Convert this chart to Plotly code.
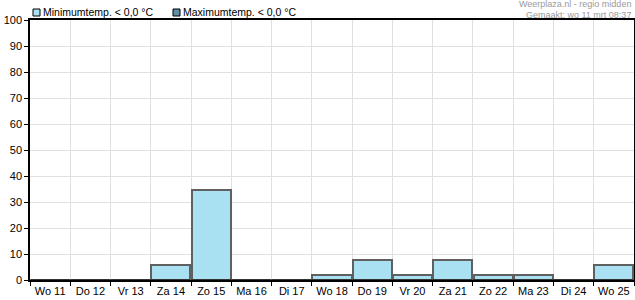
import plotly.graph_objects as go

days = ["Wo 11", "Do 12", "Vr 13", "Za 14", "Zo 15", "Ma 16", "Di 17", "Wo 18",
        "Do 19", "Vr 20", "Za 21", "Zo 22", "Ma 23", "Di 24", "Wo 25"]
min_temp_pct = [0, 0, 0, 5.8, 34.5, 0, 0, 2, 7.8, 2, 7.8, 2, 2, 0, 5.8]
max_temp_pct = [0, 0, 0, 0, 0, 0, 0, 0, 0, 0, 0, 0, 0, 0, 0]
legend_names = ["Minimumtemp. < 0,0 °C", "Maximumtemp. < 0,0 °C"]
legend_colors = ["#a9e1f2", "#5f8ea6"]

W, H = 635, 300
L, R, T, B = 30, 1, 20, 20
pw, ph = W - L - R, H - T - B

def px(x):
    return (x - L) / pw

def py(y):
    return (H - B - y) / ph

fig = go.Figure()
fig.add_trace(go.Bar(
    x=days, y=min_temp_pct, name=legend_names[0],
    marker=dict(color=legend_colors[0], line=dict(color="#606060", width=2)),
    width=0.97,
))
fig.add_trace(go.Bar(
    x=days, y=max_temp_pct, name=legend_names[1],
    marker=dict(color=legend_colors[1], line=dict(color="#333333", width=1)),
    width=0.97,
))

shapes = []
annotations = []
leg_x = [33, 173]
for i, (name, col) in enumerate(zip(legend_names, legend_colors)):
    x0 = leg_x[i]
    shapes.append(dict(type="rect", xref="paper", yref="paper",
                       x0=px(x0), x1=px(x0 + 7), y0=py(16), y1=py(9),
                       fillcolor=col, line=dict(color="black", width=1)))
    annotations.append(dict(text=name, xref="paper", yref="paper",
                            x=px(x0 + 8), y=py(12), xanchor="left", yanchor="middle",
                            showarrow=False, font=dict(size=10.5, color="black")))

annotations.append(dict(text="Weerplaza.nl - regio midden", xref="paper", yref="paper",
                        x=px(633), y=py(4.5), xanchor="right", yanchor="middle",
                        showarrow=False, font=dict(size=9, color="#9a9a9a")))
annotations.append(dict(text="Gemaakt: wo 11 mrt 08:37", xref="paper", yref="paper",
                        x=px(633), y=py(14.5), xanchor="right", yanchor="middle",
                        showarrow=False, font=dict(size=9, color="#9a9a9a")))

fig.update_layout(
    width=W, height=H,
    margin=dict(l=L, r=R, t=T, b=B, autoexpand=False),
    paper_bgcolor="white", plot_bgcolor="white",
    barmode="overlay", bargap=0,
    font=dict(family="Liberation Sans, Arial, sans-serif", size=11, color="black"),
    showlegend=False,
    shapes=shapes,
    annotations=annotations,
)
fig.update_xaxes(
    type="category", tickson="boundaries", ticks="outside", ticklen=4,
    tickcolor="black", showline=True, linecolor="black", linewidth=1.5,
    mirror=True, showgrid=True, gridcolor="#e0e0e0", gridwidth=1,
    tickfont=dict(size=11), tickangle=0, automargin=False,
)
fig.update_yaxes(
    range=[0, 100], dtick=10, ticks="outside", ticklen=4, tickcolor="black",
    showline=True, linecolor="black", linewidth=1.5, mirror=True,
    showgrid=True, gridcolor="#e0e0e0", gridwidth=1, zeroline=False,
    tickfont=dict(size=11), automargin=False,
)

fig.write_html("out.html")
